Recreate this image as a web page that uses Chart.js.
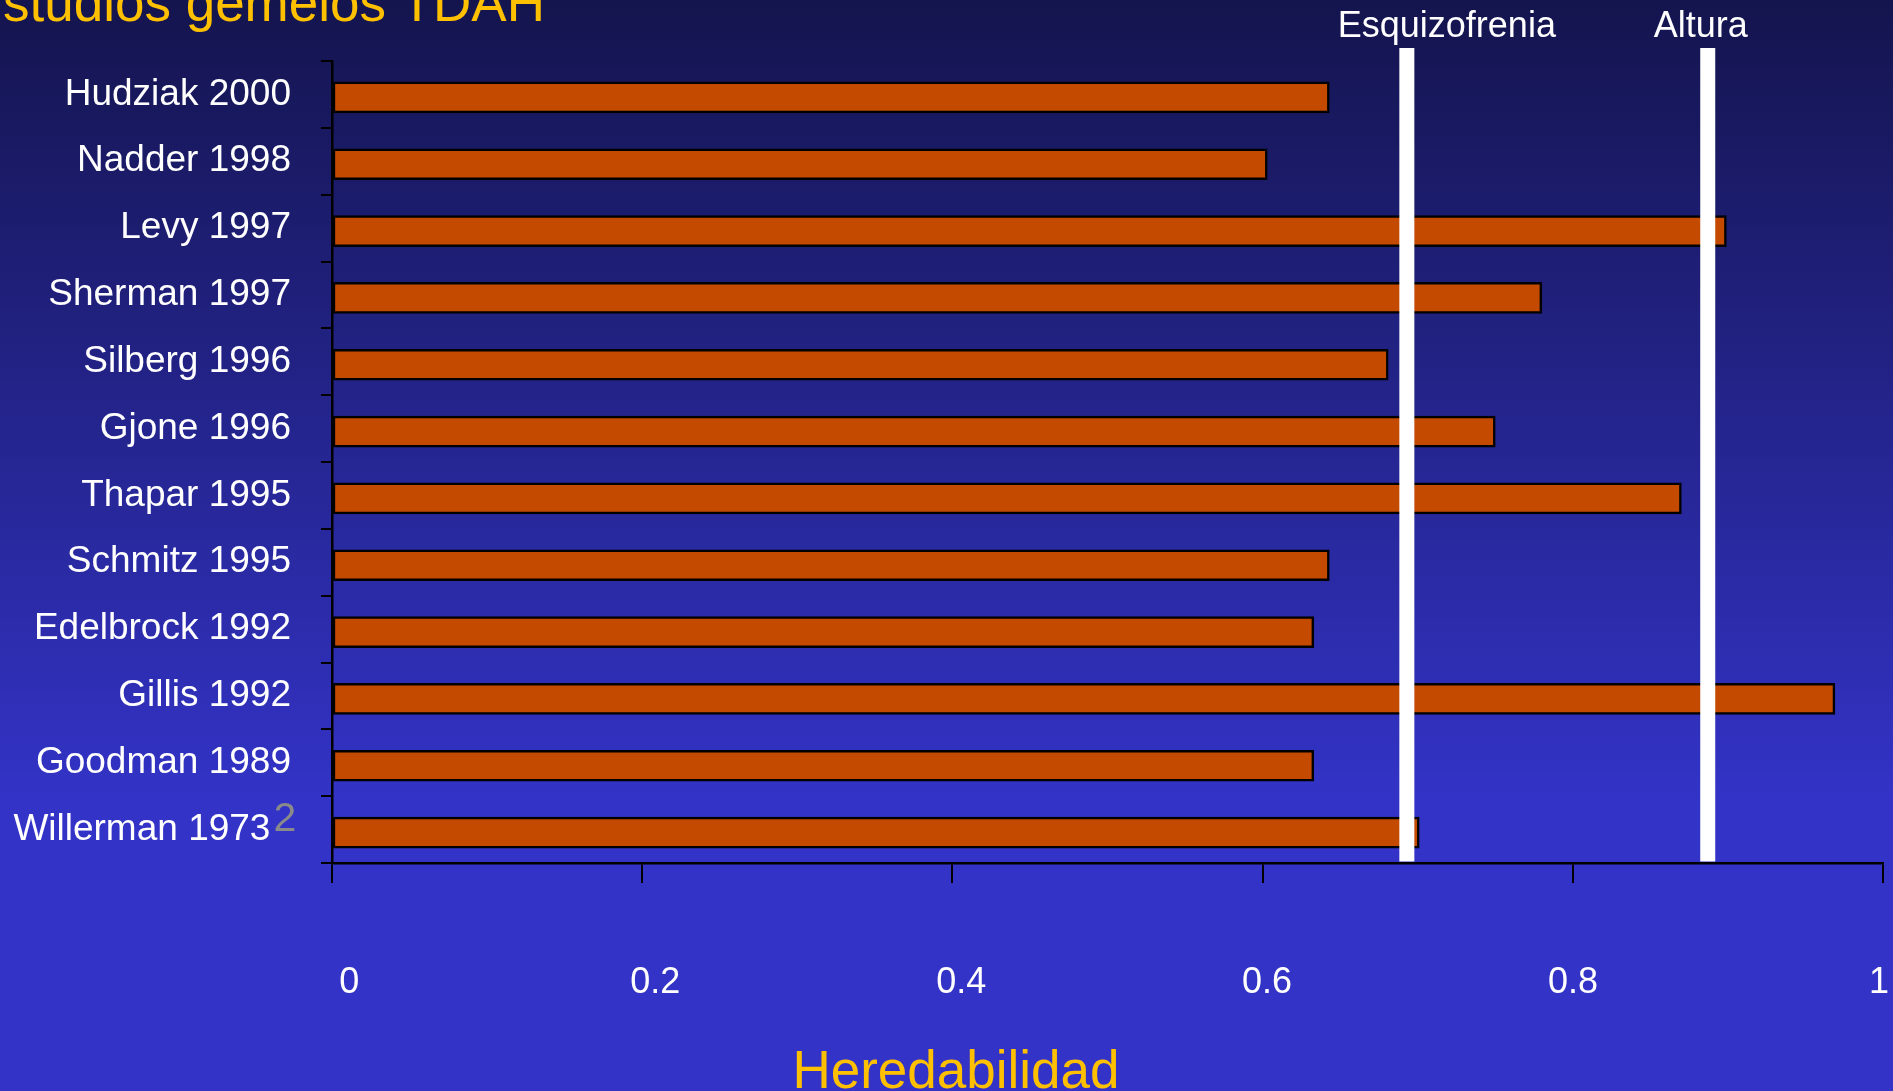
<!DOCTYPE html>
<html>
<head>
<meta charset="utf-8">
<script src="https://cdn.jsdelivr.net/npm/chart.js@4.4.1/dist/chart.umd.min.js"></script>
<style>
  html, body { margin: 0; padding: 0; background: #3333c7; overflow: hidden; }
  canvas { display: block; }
</style>
</head>
<body>
<canvas id="chart" width="1893" height="1091"></canvas>
<script>
// Twin studies of ADHD and the heritability each one reports
const studies = [
  'Hudziak 2000', 'Nadder 1998', 'Levy 1997', 'Sherman 1997', 'Silberg 1996', 'Gjone 1996',
  'Thapar 1995', 'Schmitz 1995', 'Edelbrock 1992', 'Gillis 1992', 'Goodman 1989', 'Willerman 1973'
];
const heritability = [0.643, 0.603, 0.899, 0.780, 0.681, 0.750, 0.870, 0.643, 0.633, 0.969, 0.633, 0.701];

// Reference heritabilities drawn as vertical markers
const referenceTraits = ['Esquizofrenia', 'Altura'];
const referenceValues = [0.693, 0.887];

const xTickLabels = ['0', '0.2', '0.4', '0.6', '0.8', '1'];
const chartTitle = 'Estudios gemelos TDAH';
const axisTitle = 'Heredabilidad';
const footnoteMark = '2';

const FONT = "'Liberation Sans', Arial, Helvetica, sans-serif";
const YELLOW = '#ffc000';
const FOOTNOTE_GAP = '  ';
const BAR_DROP = 3; // bars sit slightly below the middle of their band

const decorations = {
  id: 'decorations',
  beforeDraw(chart) {
    const { ctx, width, height } = chart;
    const g = ctx.createLinearGradient(0, 0, 0, 800);
    g.addColorStop(0, '#14144e');
    g.addColorStop(1, '#3333c7');
    ctx.save();
    ctx.fillStyle = g;
    ctx.fillRect(0, 0, width, height);
    ctx.restore();
  },
  beforeDatasetsDraw(chart) {
    chart.ctx.save();
    chart.ctx.translate(0, BAR_DROP);
  },
  afterDatasetsDraw(chart) {
    const { ctx, chartArea } = chart;
    ctx.restore();
    const xs = chart.scales.x;
    const labelShift = [40, -7];
    ctx.save();
    referenceValues.forEach((v, i) => {
      const px = xs.getPixelForValue(v);
      ctx.fillStyle = '#ffffff';
      ctx.fillRect(px - 7.5, 48, 15, chartArea.bottom - 1.5 - 48);
      ctx.font = `36px ${FONT}`;
      ctx.textAlign = 'center';
      ctx.textBaseline = 'alphabetic';
      ctx.fillText(referenceTraits[i], px + labelShift[i], 37);
    });
    ctx.restore();
  },
  afterDraw(chart) {
    const { ctx, width } = chart;
    ctx.save();
    // Slide title, its first letter running off the page edge
    ctx.save();
    ctx.beginPath();
    ctx.rect(3, 0, width, 60);
    ctx.clip();
    ctx.font = `53px ${FONT}`;
    ctx.fillStyle = YELLOW;
    ctx.textAlign = 'left';
    ctx.textBaseline = 'alphabetic';
    const eW = ctx.measureText(chartTitle[0]).width;
    ctx.fillText(chartTitle, 3 - eW, 21);
    ctx.restore();

    // Axis title
    ctx.font = `53px ${FONT}`;
    ctx.fillStyle = YELLOW;
    ctx.textAlign = 'center';
    ctx.textBaseline = 'alphabetic';
    ctx.fillText(axisTitle, 956, 1088);

    // Footnote mark after the last study label
    const ys = chart.scales.y;
    const last = studies.length - 1;
    const labelRight = ys.right - ys.options.grid.tickLength - ys.options.ticks.padding;
    ctx.font = `37px ${FONT}`;
    const gapW = ctx.measureText(FOOTNOTE_GAP).width;
    ctx.font = `41px ${FONT}`;
    ctx.fillStyle = '#8a8a8a';
    ctx.textAlign = 'left';
    ctx.fillText(footnoteMark, labelRight - gapW + 3, ys.getPixelForValue(last) + 1);
    ctx.restore();
  }
};

new Chart(document.getElementById('chart'), {
  type: 'bar',
  data: {
    labels: studies,
    datasets: [{
      data: heritability,
      backgroundColor: '#c44a00',
      borderColor: '#000000',
      borderWidth: 2.5,
      borderSkipped: false,
      barThickness: 31
    }]
  },
  options: {
    indexAxis: 'y',
    responsive: false,
    devicePixelRatio: 1,
    animation: false,
    layout: { padding: { top: 61, right: 10, bottom: 0, left: 0 } },
    plugins: {
      legend: { display: false },
      title: { display: false },
      tooltip: { enabled: false }
    },
    scales: {
      y: {
        type: 'category',
        grid: { drawOnChartArea: false, color: '#000000', lineWidth: 2, tickLength: 11, offset: true },
        border: { color: '#000000', width: 2.5 },
        ticks: {
          color: '#ffffff',
          font: { family: FONT, size: 37 },
          padding: 30,
          callback: (v, i) => studies[i] + (i === studies.length - 1 ? FOOTNOTE_GAP : '')
        },
        afterFit: (s) => { s.width = 332; }
      },
      x: {
        type: 'linear',
        position: 'bottom',
        weight: 0,
        min: 0,
        max: 1,
        grid: { drawOnChartArea: false, color: '#000000', lineWidth: 2, tickLength: 20 },
        border: { color: '#000000', width: 2.5 },
        ticks: { display: false, stepSize: 0.2 },
        afterFit: (s) => { s.paddingLeft = 0; s.paddingRight = 0; }
      },
      x2: {
        type: 'linear',
        position: 'bottom',
        weight: 1,
        min: -0.011309,
        max: 1.002615,
        grid: { drawOnChartArea: false, color: 'rgba(0,0,0,0)', tickLength: 78 },
        border: { display: false },
        ticks: {
          stepSize: 0.2,
          includeBounds: false,
          color: '#ffffff',
          font: { family: FONT, size: 36 },
          padding: 0,
          maxRotation: 0,
          autoSkip: false,
          callback: (v, i) => xTickLabels[i]
        },
        afterFit: (s) => { s.height = 208; s.paddingLeft = 0; s.paddingRight = 0; }
      }
    }
  },
  plugins: [decorations]
});
</script>
</body>
</html>
